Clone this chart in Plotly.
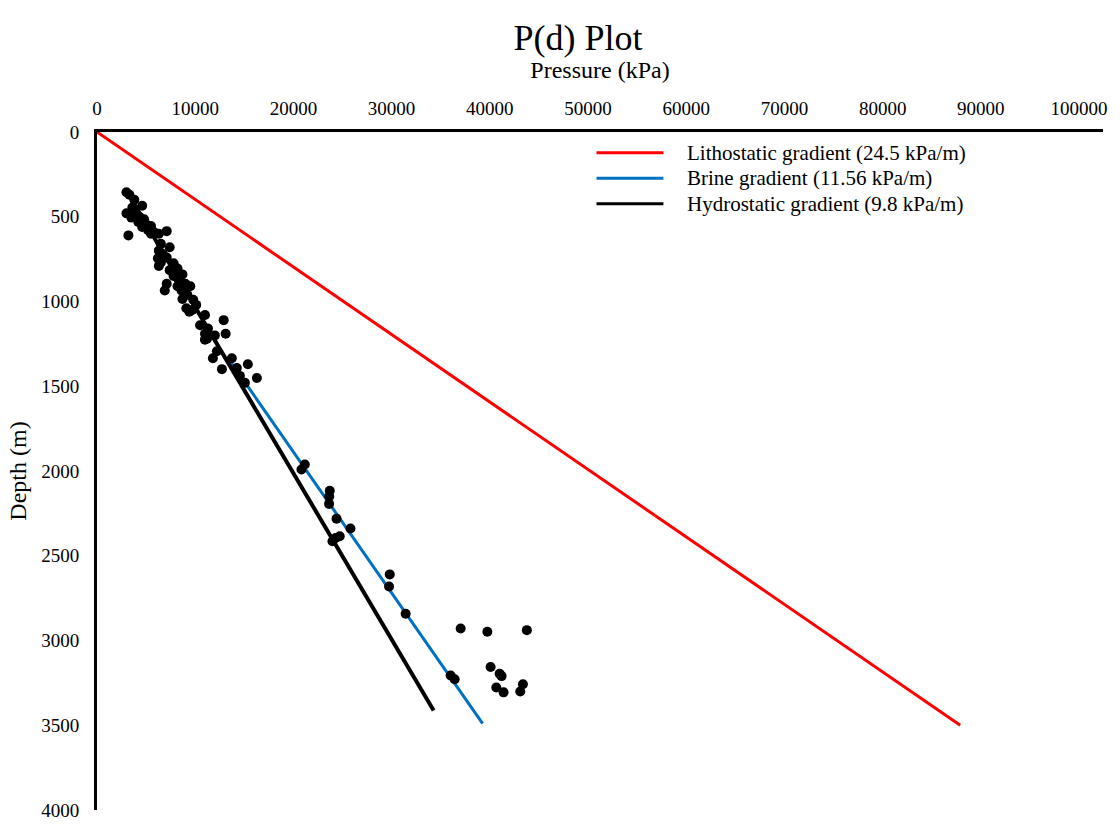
import plotly.graph_objects as go

# Measured pressure/depth data points
pressure_kpa = [3000, 3300, 3800, 4600, 3600, 3000, 3900, 4300, 3500, 4800, 4200, 5000, 5500, 4600,
                5200, 5800, 6300, 5500, 3200, 7100, 6500, 7400, 6300, 6700, 6200, 7100, 6500, 7800,
                6300, 8200, 7400, 8700, 7800, 8300, 7100, 9000, 8200, 9500, 6900, 8600, 9200, 8700,
                9800, 9100, 9700, 10100, 9400, 11000, 10500, 11300, 11000, 11200, 12000, 12900, 13100,
                10990, 12210, 11800, 12720, 13730, 14240, 14550, 15360, 16280, 15060,
                21160, 20820, 23700, 23650, 23630, 24390, 25810, 24720, 24300, 23980, 29810, 29740,
                31430, 37030, 39750, 43770, 36010, 36420, 40080, 41000, 41200, 40660, 41400, 43370, 43100]
depth_m = [355, 370, 400, 435, 445, 480, 480, 500, 505, 515, 530, 545, 555, 560,
           580, 590, 600, 600, 610, 585, 660, 680, 700, 720, 745, 740, 770, 775,
           790, 805, 815, 840, 850, 870, 895, 895, 910, 910, 935, 935, 960, 985,
           990, 1040, 1050, 1020, 1060, 1080, 1140, 1160, 1190, 1220, 1200, 1110, 1190,
           1225, 1294, 1335, 1399, 1335, 1393, 1439, 1370, 1451, 1480,
           1962, 1991, 2117, 2150, 2194, 2281, 2339, 2385, 2395, 2414, 2610, 2681,
           2842, 2929, 2948, 2939, 3206, 3229, 3156, 3196, 3210, 3277, 3306, 3258, 3301]

# Gradient lines (endpoints)
litho_pressure = [0, 87900]
litho_depth = [0, 3500]
brine_pressure = [13430, 39270]
brine_depth = [1341, 3490]
hydro_pressure = [2950, 34280]
hydro_depth = [342, 3413]

legend_labels = ["Lithostatic gradient (24.5 kPa/m)",
                 "Brine gradient (11.56 kPa/m)",
                 "Hydrostatic gradient (9.8 kPa/m)"]
legend_colors = ["#FF0000", "#0070C0", "#000000"]

x_ticks = list(range(0, 100001, 10000))
y_ticks = list(range(0, 4001, 500))

FONT = "Liberation Serif, Times New Roman, serif"

fig = go.Figure()
fig.add_trace(go.Scatter(x=litho_pressure, y=litho_depth, mode="lines",
                         line=dict(color=legend_colors[0], width=3),
                         name=legend_labels[0], showlegend=False))
fig.add_trace(go.Scatter(x=brine_pressure, y=brine_depth, mode="lines",
                         line=dict(color=legend_colors[1], width=3),
                         name=legend_labels[1], showlegend=False))
fig.add_trace(go.Scatter(x=hydro_pressure, y=hydro_depth, mode="lines",
                         line=dict(color=legend_colors[2], width=4),
                         name=legend_labels[2], showlegend=False))
fig.add_trace(go.Scatter(x=pressure_kpa, y=depth_m, mode="markers",
                         marker=dict(color="black", size=10),
                         name="Data", showlegend=False))

# custom legend
leg_y = [153, 179, 205]
for i, (lab, col) in enumerate(zip(legend_labels, legend_colors)):
    yp = 1 - (leg_y[i] - 132) / (821 - 132)
    fig.add_shape(type="line", xref="paper", yref="paper",
                  x0=(597 - 97) / 1007, x1=(664 - 97) / 1007, y0=yp, y1=yp,
                  line=dict(color=col, width=3))
    fig.add_annotation(xref="paper", yref="paper", x=(686 - 97) / 1007, y=yp,
                       text=lab, showarrow=False, xanchor="left", yanchor="middle",
                       font=dict(family=FONT, size=21, color="black"))

fig.update_layout(
    width=1120, height=833,
    margin=dict(l=97, r=16, t=132, b=12),
    paper_bgcolor="white", plot_bgcolor="white",
    font=dict(family=FONT, color="black", size=19),
    title=dict(text="P(d) Plot", x=578 / 1120, xanchor="center", y=1 - 37 / 833,
               yanchor="middle", font=dict(family=FONT, size=36, color="black")),
    xaxis=dict(range=[0, 102440], side="top", tickvals=x_ticks,
               ticktext=[str(v) for v in x_ticks], ticks="", ticklabelstandoff=6,
               showgrid=False, zeroline=False, showline=True, linecolor="black",
               linewidth=3, tickfont=dict(size=19),
               title=dict(text="Pressure (kPa)", font=dict(size=24), standoff=14)),
    yaxis=dict(range=[4000, 0], tickvals=y_ticks, ticktext=[str(v) for v in y_ticks],
               ticks="", ticklabelstandoff=11, showgrid=False,
               zeroline=False, showline=True, linecolor="black", linewidth=3,
               tickfont=dict(size=19),
               title=dict(text="Depth (m)", font=dict(size=24), standoff=8)),
)

fig.write_html("out.html")
